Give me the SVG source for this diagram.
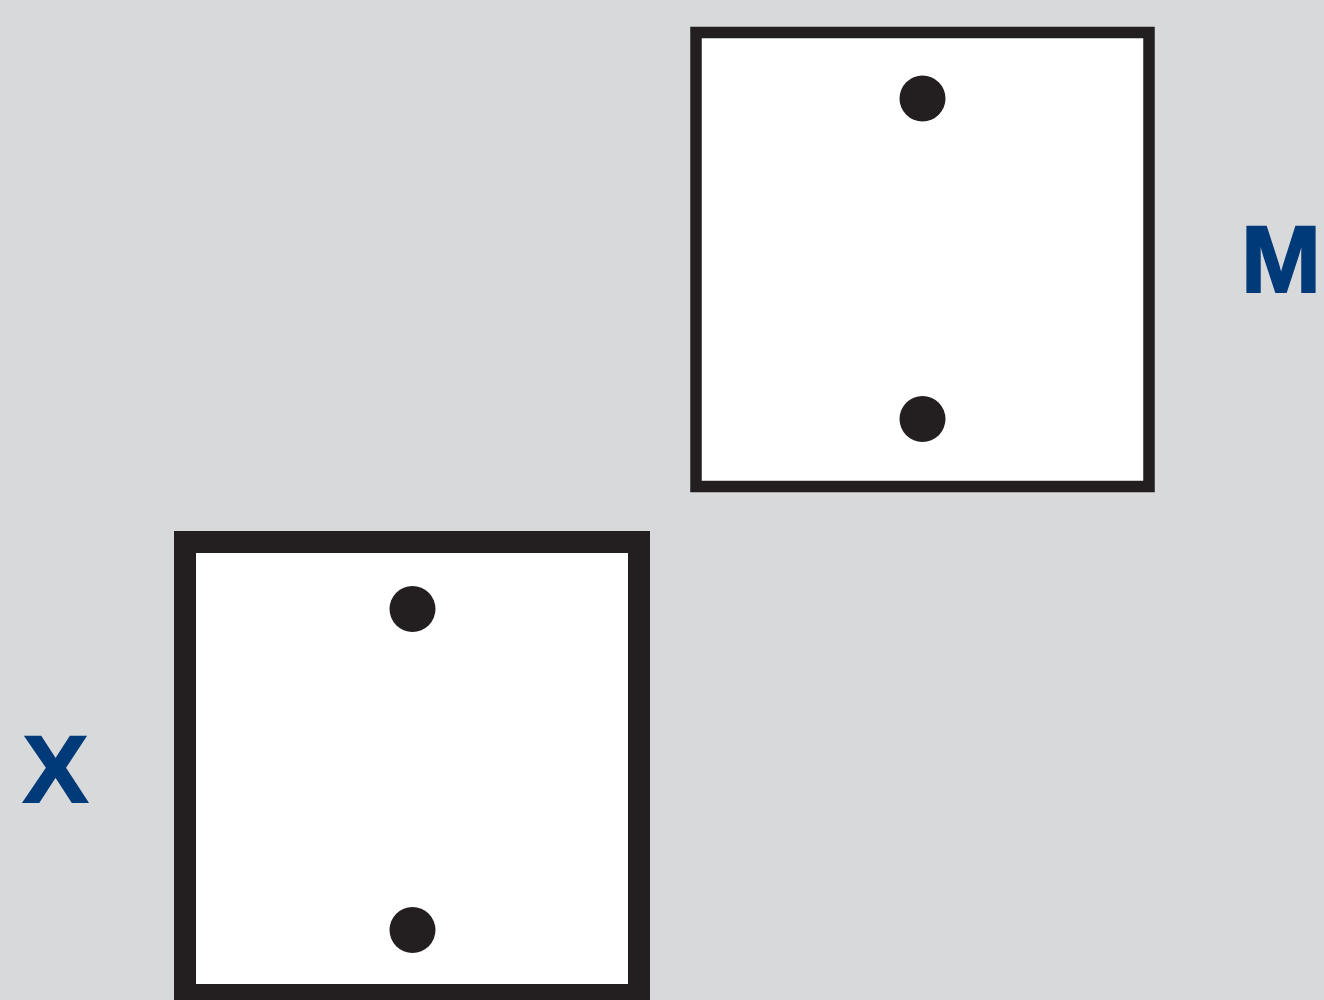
<svg xmlns="http://www.w3.org/2000/svg" width="1324" height="1000" viewBox="0 0 1324 1000">
<style>
.box{fill:#ffffff;stroke:#231f20}
.dot{fill:#231f20}
.lbl{font-family:"Liberation Sans",Arial,sans-serif;font-weight:bold;font-size:94px;fill:#003a78;stroke:#003a78;stroke-width:2}
</style>
<rect x="0" y="0" width="1324" height="1000" fill="#d8d9db"/>
<g id="M">
<rect class="box" x="696" y="32.5" width="453" height="454" stroke-width="11.5"/>
<circle class="dot" cx="922.5" cy="98.5" r="23"/>
<circle class="dot" cx="922.5" cy="419" r="23"/>
<text class="lbl" x="1241" y="292" textLength="80" lengthAdjust="spacingAndGlyphs">M</text>
</g>
<g id="X">
<rect class="box" x="185" y="542" width="454" height="453" stroke-width="22"/>
<circle class="dot" cx="412.5" cy="609" r="23"/>
<circle class="dot" cx="412.5" cy="930" r="23"/>
<text class="lbl" x="23" y="802" textLength="65" lengthAdjust="spacingAndGlyphs">X</text>
</g>
<g id="connectors"></g>
</svg>
